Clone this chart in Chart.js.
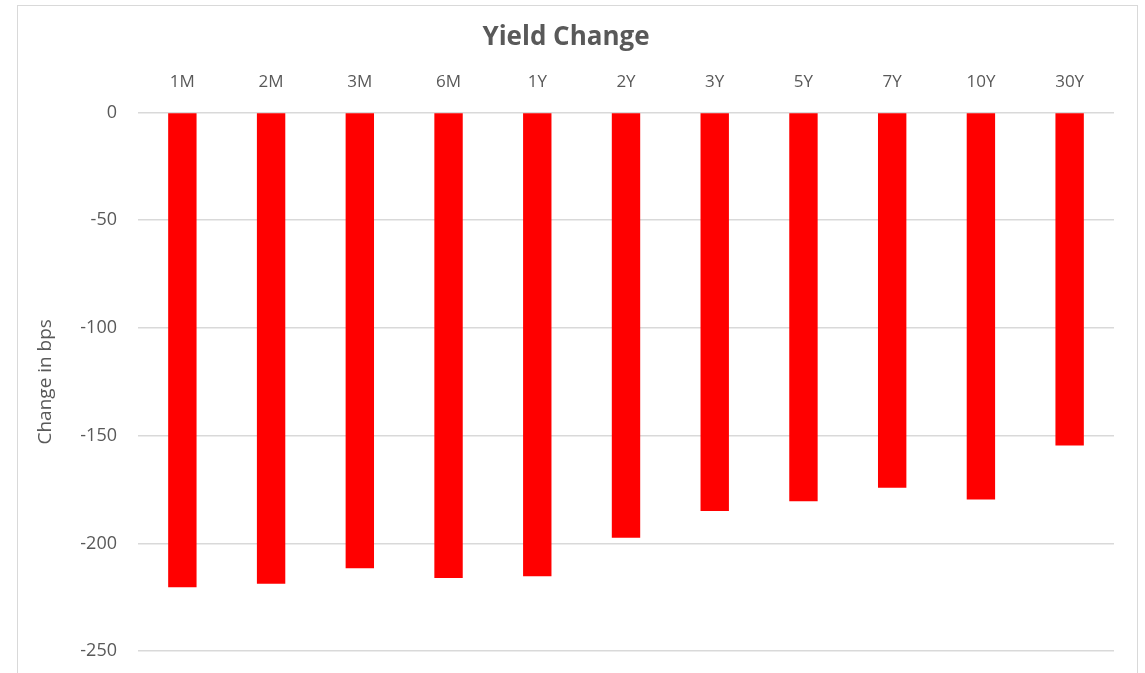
<!DOCTYPE html>
<html>
<head>
<meta charset="utf-8">
<script src="https://cdn.jsdelivr.net/npm/chart.js@4"></script>
<style>
  html, body { margin: 0; padding: 0; background: #fff; overflow: hidden; }
  #wrap { position: absolute; left: 17px; top: 5px; width: 1119px; height: 700px; border: 1px solid #d9d9d9; }
  #chart { display: block; }
</style>
</head>
<body>
<div id="wrap"><canvas id="chart" width="1119" height="677"></canvas></div>
<script>
// tenors along the top axis
var tenors = ['1M', '2M', '3M', '6M', '1Y', '2Y', '3Y', '5Y', '7Y', '10Y', '30Y'];
// change in yield, bps
var yieldChange = [-220.3, -218.7, -211.5, -216, -215.2, -197.4, -184.9, -180.4, -174.2, -179.6, -154.6];
var yMin = -250, yMax = 0, yStep = 50;

var txt = '#595959';
var ctx = document.getElementById('chart');
var chart = new Chart(ctx, {
  type: 'bar',
  data: {
    labels: tenors,
    datasets: [{
      label: 'Yield Change',
      data: yieldChange,
      backgroundColor: '#ff0000',
      borderWidth: 0,
      barPercentage: 0.32,
      categoryPercentage: 1
    }]
  },
  options: {
    responsive: false,
    animation: false,
    layout: { padding: { left: 0, right: 23, top: 0, bottom: 0 } },
    plugins: {
      legend: { display: false },
      tooltip: { enabled: false },
      title: {
        display: true,
        text: 'Yield Change',
        color: txt,
        font: { family: 'Open Sans', size: 26, weight: 'bold' },
        padding: { top: 16, bottom: 4 }
      }
    },
    scales: {
      x: {
        position: 'top',
        grid: { display: false, drawTicks: false },
        border: { display: false },
        ticks: { color: txt, font: { family: 'Open Sans', size: 17 }, padding: 20, maxRotation: 0 },
        afterFit: function(s) { s.height = 55.2; }
      },
      y: {
        min: yMin,
        max: yMax,
        grid: { color: '#d9d9d9', lineWidth: 1.5, drawTicks: false },
        border: { display: false },
        ticks: { stepSize: yStep, color: txt, font: { family: 'Open Sans', size: 18 }, padding: 21 },
        title: {
          display: true,
          text: 'Change in bps',
          color: txt,
          font: { family: 'Open Sans', size: 19 },
          padding: { top: 16, bottom: 0 }
        },
        afterFit: function(s) { s.width = 120; }
      }
    }
  }
});
</script>
</body>
</html>
